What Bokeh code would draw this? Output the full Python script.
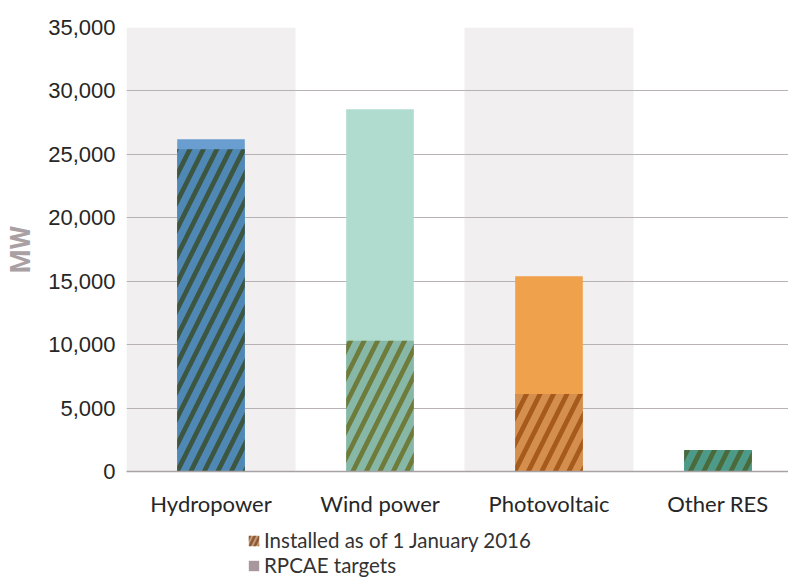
from bokeh.plotting import figure
from bokeh.layouts import column
from bokeh.models import Range1d, FixedTicker, Legend, LegendItem, ColumnDataSource, NumeralTickFormatter
from bokeh.embed import file_html
from bokeh.resources import INLINE

categories = ["Hydropower", "Wind power", "Photovoltaic", "Other RES"]
installed = [25400, 10300, 6100, 1700]
targets = [26200, 28550, 15400, 1700]
yticks = [0, 5000, 10000, 15000, 20000, 25000, 30000, 35000]
legend_labels = ["Installed as of 1 January 2016", "RPCAE targets"]

target_colors = ["#6A9ED0", "#B0DCCF", "#F0A14C", "#4E9A88"]
inst_colors = ["#4F88B4", "#87B8A7", "#D48E4E", "#4E9A88"]
hatch_colors = ["#3D5642", "#6F7B3B", "#A65A1C", "#4A6A3C"]

xs = [i + 0.5 for i in range(len(categories))]
cat_w = 169.0
W, H1, H2 = 788, 526, 51
ML, MT, MB = 126, 27, 55
frame_w = W - ML

p = figure(output_backend="svg", toolbar_location=None, width=W, height=H1,
           x_range=Range1d(0, frame_w / cat_w), y_range=Range1d(0, 35000),
           min_border_left=ML, min_border_top=MT, min_border_right=0, min_border_bottom=MB)
p.outline_line_color = None
p.background_fill_color = "white"

# alternating bands
band_x = [xs[i] for i in range(len(categories)) if i % 2 == 0]
p.vbar(x=band_x, width=1.0, bottom=0, top=35000, fill_color="#F1EFF0", line_color=None, level="image")

src = ColumnDataSource(dict(x=xs, inst=installed, tgt=targets, tc=target_colors,
                            ic=inst_colors, hc=hatch_colors))
p.vbar(x="x", width=0.4, bottom=0, top="tgt", fill_color="tc", line_color=None, source=src)
p.vbar(x="x", width=0.4, bottom=0, top="inst", fill_color="ic", line_color=None,
       hatch_pattern="/", hatch_color="hc", hatch_scale=27, hatch_weight=4.8, source=src)

# axes
p.xaxis.ticker = FixedTicker(ticks=xs)
p.xaxis.major_label_overrides = {x: c for x, c in zip(xs, categories)}
p.xaxis.major_label_text_font = "Lato"
p.xaxis.major_label_text_font_size = "22px"
p.xaxis.major_label_text_color = "#262626"
p.xaxis.major_tick_line_color = None
p.xaxis.minor_tick_line_color = None
p.xaxis.axis_line_color = "#A9A2A5"
p.xaxis.axis_line_width = 1.5
p.xaxis.major_label_standoff = 12

p.yaxis.ticker = FixedTicker(ticks=yticks)
p.yaxis.formatter = NumeralTickFormatter(format="0,0")
p.yaxis.major_label_text_font = "Liberation Sans"
p.yaxis.major_label_text_font_size = "22px"
p.yaxis.major_label_text_color = "#262626"
p.yaxis.major_tick_line_color = None
p.yaxis.minor_tick_line_color = None
p.yaxis.axis_line_color = None
p.yaxis.major_label_standoff = 5
p.yaxis.axis_label = "MW"
p.yaxis.axis_label_text_font = "Roboto"
p.yaxis.axis_label_text_font_style = "bold"
p.yaxis.axis_label_text_font_size = "27px"
p.yaxis.axis_label_text_color = "#A9A0A4"
p.yaxis.axis_label_standoff = 8

p.xgrid.grid_line_color = None
p.ygrid.ticker = FixedTicker(ticks=yticks[1:])
p.ygrid.grid_line_color = "#B8B2B4"
p.ygrid.grid_line_width = 1.2

# legend figure
p2 = figure(output_backend="svg", toolbar_location=None, width=W, height=H2,
            x_range=Range1d(0, 1), y_range=Range1d(0, 1),
            min_border_left=0, min_border_top=0, min_border_right=0, min_border_bottom=0)
p2.axis.visible = False
p2.grid.visible = False
p2.outline_line_color = None
# zero-size holders so the legend swatches get their colours
r1 = p2.vbar(x=[0], width=0, top=[0], bottom=[0], fill_color="#C39A74", line_color=None,
             hatch_pattern="/", hatch_color="#8B5A36", hatch_scale=10, hatch_weight=2.5)
r2 = p2.vbar(x=[0], width=0, top=[0], bottom=[0], fill_color="#A8989E", line_color=None)
legend = Legend(items=[LegendItem(label=legend_labels[0], renderers=[r1]),
                       LegendItem(label=legend_labels[1], renderers=[r2])],
                location=(121, 0), orientation="vertical",
                label_text_font="Lato", label_text_font_size="20.5px", label_text_color="#333333",
                glyph_width=13, glyph_height=13, label_standoff=4, spacing=1,
                padding=0, margin=0, border_line_color=None, background_fill_alpha=0,
                label_height=22)
p2.add_layout(legend, "center")

layout = column(p, p2, spacing=0)
open("out.html", "w").write(file_html(layout, INLINE))
